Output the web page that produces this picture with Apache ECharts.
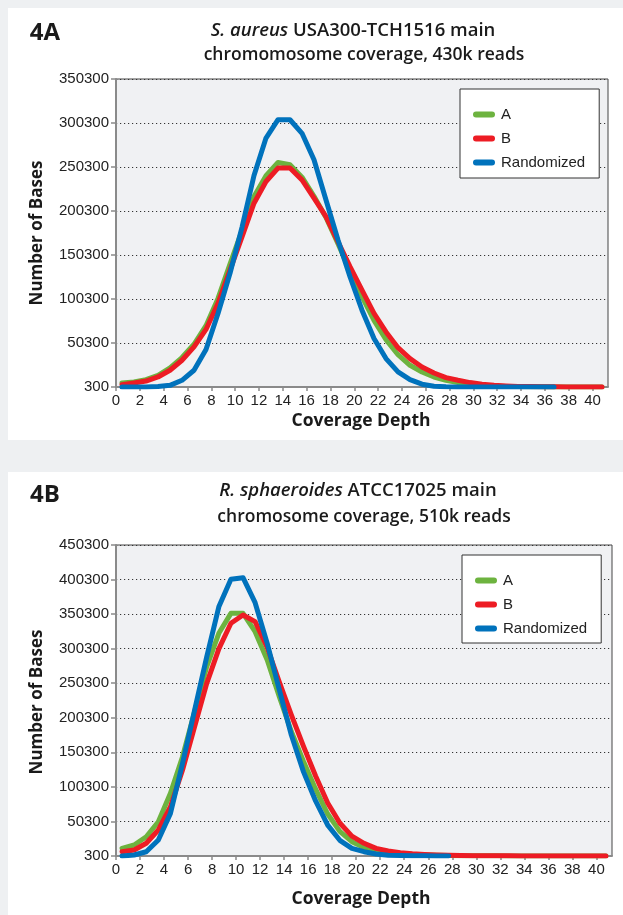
<!DOCTYPE html>
<html>
<head>
<meta charset="utf-8">
<script src="https://cdn.jsdelivr.net/npm/echarts@6/dist/echarts.min.js"></script>
<style>
  html, body { margin: 0; padding: 0; background: #eef0f2; }
  #wrap { position: relative; width: 623px; height: 915px; overflow: hidden; }
  .panel { position: absolute; background: #ffffff; }
  #chart { position: absolute; left: 0; top: 0; width: 623px; height: 915px; }
</style>
</head>
<body>
<div id="wrap">
  <div class="panel" style="left:8px;top:8px;width:615px;height:432px;"></div>
  <div class="panel" style="left:8px;top:472px;width:615px;height:443px;"></div>
  <div id="chart"></div>
</div>
<script>
// ---- data ----
const depths = [1,2,3,4,5,6,7,8,9,10,11,12,13,14,15,16,17,18,19,20,21,22,23,24,25,26,27,28,29,30,31,32,33,34,35,36,37,38,39,40,41];
const xTickLabels = [0,2,4,6,8,10,12,14,16,18,20,22,24,26,28,30,32,34,36,38,40];
const seriesNames = ['A', 'B', 'Randomized'];

// 4A: S. aureus USA300-TCH1516
const aureusA = [4900,6000,8700,13600,22000,33800,48900,70000,101000,140000,178000,216700,240300,255400,252800,238800,217000,193000,163000,132000,103000,76000,54000,37000,25000,17400,11700,7900,5300,3400,2200,1500,1000,800,600,500,400,300,300,300,300];
const aureusB = [3000,4900,7100,11700,19300,30700,45900,65700,95300,133000,170800,209200,233800,249100,249100,235700,215000,193900,165400,137000,110400,83900,62900,45000,32600,23100,16200,11000,7900,5300,3400,2200,1500,1000,800,600,500,400,300,300,300];
const aureusRandomized = [300,300,300,800,2200,7900,19300,43000,83900,129500,181800,240600,283200,304000,304000,288600,258500,212900,167400,125600,87600,55400,32600,17400,8700,3500,1200,600,400,300,300,300,300,300,300,300,300];

// 4B: R. sphaeroides ATCC17025
const sphaerA = [11400,16200,28200,49900,91000,144000,209000,274200,322500,351400,351400,324800,283900,230800,180000,137000,97000,61000,36000,21000,12500,7500,5100,3500,2500,1800,1300,1000,800,700,600,500,400,400,300,300,300,300,300,300,300];
const sphaerB = [6500,9000,18700,37900,71600,124700,187400,250000,300000,337000,349000,339400,302000,252000,204000,159000,116000,77000,48000,29000,18700,11400,7500,5000,3500,2500,1800,1300,1000,800,700,600,500,400,400,300,300,300,300,300,300];
const sphaerRandomized = [300,1700,6500,23400,62000,134400,211500,288500,360800,400600,403000,366800,308000,240500,175000,122000,80000,45000,23000,11400,6500,3200,1500,1000,700,500,400,300];

const yTicksA = { min: 300, max: 350300, step: 50000 };
const yTicksB = { min: 300, max: 450300, step: 50000 };

// ---- styles ----
const COLORS = { A: '#6db33f', B: '#ed1c24', Randomized: '#0072bc' };
const TICK_FONT = 'Liberation Sans';
const TITLE_FONT = 'Open Sans';
const axisGray = '#8a8a8a';

const chart = echarts.init(document.getElementById('chart'), null, { renderer: 'canvas' });

function grids() {
  return [
    { left: 116, right: 15, top: 79, height: 308, show: true, backgroundColor: '#f0f1f3', borderColor: '#444', borderWidth: 1 },
    { left: 116, right: 11, top: 545, height: 311, show: true, backgroundColor: '#f0f1f3', borderColor: '#444', borderWidth: 1 }
  ];
}

function catAxis(gi) {
  return {
    type: 'category', gridIndex: gi, data: depths, boundaryGap: true,
    axisLine: { show: false }, axisTick: { show: false }, axisLabel: { show: false }, splitLine: { show: false }
  };
}
function labelAxis(gi) {
  return {
    type: 'value', gridIndex: gi, min: 0, max: 41.3, interval: 2, position: 'bottom',
    axisLine: { show: true, lineStyle: { color: axisGray, width: 2 } },
    axisTick: { show: true, length: 4, lineStyle: { color: axisGray, width: 1.5 } },
    axisLabel: { show: true, showMaxLabel: false, margin: 6, fontFamily: TICK_FONT, fontSize: 15, color: '#222',
      formatter: v => (xTickLabels.indexOf(v) >= 0 ? String(v) : '') },
    splitLine: { show: false }
  };
}
function yAxis(gi, t) {
  return {
    type: 'value', gridIndex: gi, min: t.min, max: t.max, interval: t.step,
    axisLine: { show: true, lineStyle: { color: axisGray, width: 2 } },
    axisTick: { show: true, length: 5, lineStyle: { color: axisGray, width: 1.5 } },
    axisLabel: { margin: 7, fontFamily: TICK_FONT, fontSize: 15, color: '#222', formatter: v => String(v) },
    splitLine: { show: true, lineStyle: { color: '#333', width: 1, type: [1.2, 2.8] } }
  };
}

function line(name, data, xi, yi) {
  return {
    name, type: 'line', xAxisIndex: xi, yAxisIndex: yi, data,
    showSymbol: false, symbol: 'none', smooth: false,
    lineStyle: { color: COLORS[name], width: 5, cap: 'round', join: 'round' },
    itemStyle: { color: COLORS[name] },
    emphasis: { disabled: true }, animation: false
  };
}

const legendIcon = 'path://M3,0L19,0A3,3,0,0,1,19,6L3,6A3,3,0,0,1,3,0Z';
function legend(left, top, gap, pad) {
  return {
    data: seriesNames, orient: 'vertical', left, top,
    backgroundColor: '#ffffff', borderColor: '#333', borderWidth: 1,
    padding: pad, itemGap: gap, itemWidth: 22, itemHeight: 6,
    icon: legendIcon, selectedMode: false,
    textStyle: { fontFamily: TICK_FONT, fontSize: 15, color: '#222', padding: [0, 0, 0, 1] }
  };
}

function txt(x, y, text, size, weight) {
  return {
    type: 'text', silent: true,
    style: { x, y, text, fontFamily: TITLE_FONT, fontSize: size, fontWeight: weight, fill: '#1a1a1a', align: 'center', verticalAlign: 'middle' }
  };
}
function vtxt(x, y, text, size, weight) {
  return {
    type: 'text', silent: true, rotation: Math.PI / 2, x, y,
    style: { x: 0, y: 0, text, fontFamily: TITLE_FONT, fontSize: size, fontWeight: weight, fill: '#1a1a1a', align: 'center', verticalAlign: 'middle' }
  };
}
function richTitle(x, y, italic, rest) {
  return {
    type: 'text', silent: true,
    style: {
      x, y, text: '{i|' + italic + '}{n|' + rest + '}', align: 'center', verticalAlign: 'middle',
      rich: {
        i: { fontFamily: TITLE_FONT, fontSize: 18.5, fontWeight: 600, fontStyle: 'italic', fill: '#1a1a1a' },
        n: { fontFamily: TITLE_FONT, fontSize: 18.5, fontWeight: 600, fill: '#1a1a1a' }
      }
    }
  };
}

const option = {
  animation: false,
  backgroundColor: 'transparent',
  grid: grids(),
  xAxis: [catAxis(0), labelAxis(0), catAxis(1), labelAxis(1)],
  yAxis: [yAxis(0, yTicksA), yAxis(1, yTicksB)],
  legend: [legend(460, 89, 9, [18, 14, 8, 13]), legend(462, 555, 9, [18, 14, 7, 13])],
  series: [
    line('A', aureusA, 0, 0),
    line('B', aureusB, 0, 0),
    line('Randomized', aureusRandomized, 0, 0),
    line('A', sphaerA, 2, 1),
    line('B', sphaerB, 2, 1),
    line('Randomized', sphaerRandomized, 2, 1)
  ],
  graphic: [
    txt(45, 33, '4A', 24, 'bold'),
    richTitle(353, 31, 'S. aureus', ' USA300-TCH1516 main'),
    txt(364, 55, 'chromomosome coverage, 430k reads', 17.5, 600),
    txt(361, 421, 'Coverage Depth', 17.5, 'bold'),
    vtxt(37, 233, 'Number of Bases', 17, 'bold'),
    txt(45, 495, '4B', 24, 'bold'),
    richTitle(358, 491, 'R. sphaeroides', ' ATCC17025 main'),
    txt(364, 517, 'chromosome coverage, 510k reads', 17.5, 600),
    txt(361, 899, 'Coverage Depth', 17.5, 'bold'),
    vtxt(37, 702, 'Number of Bases', 17, 'bold')
  ]
};
chart.setOption(option);
</script>
</body>
</html>
